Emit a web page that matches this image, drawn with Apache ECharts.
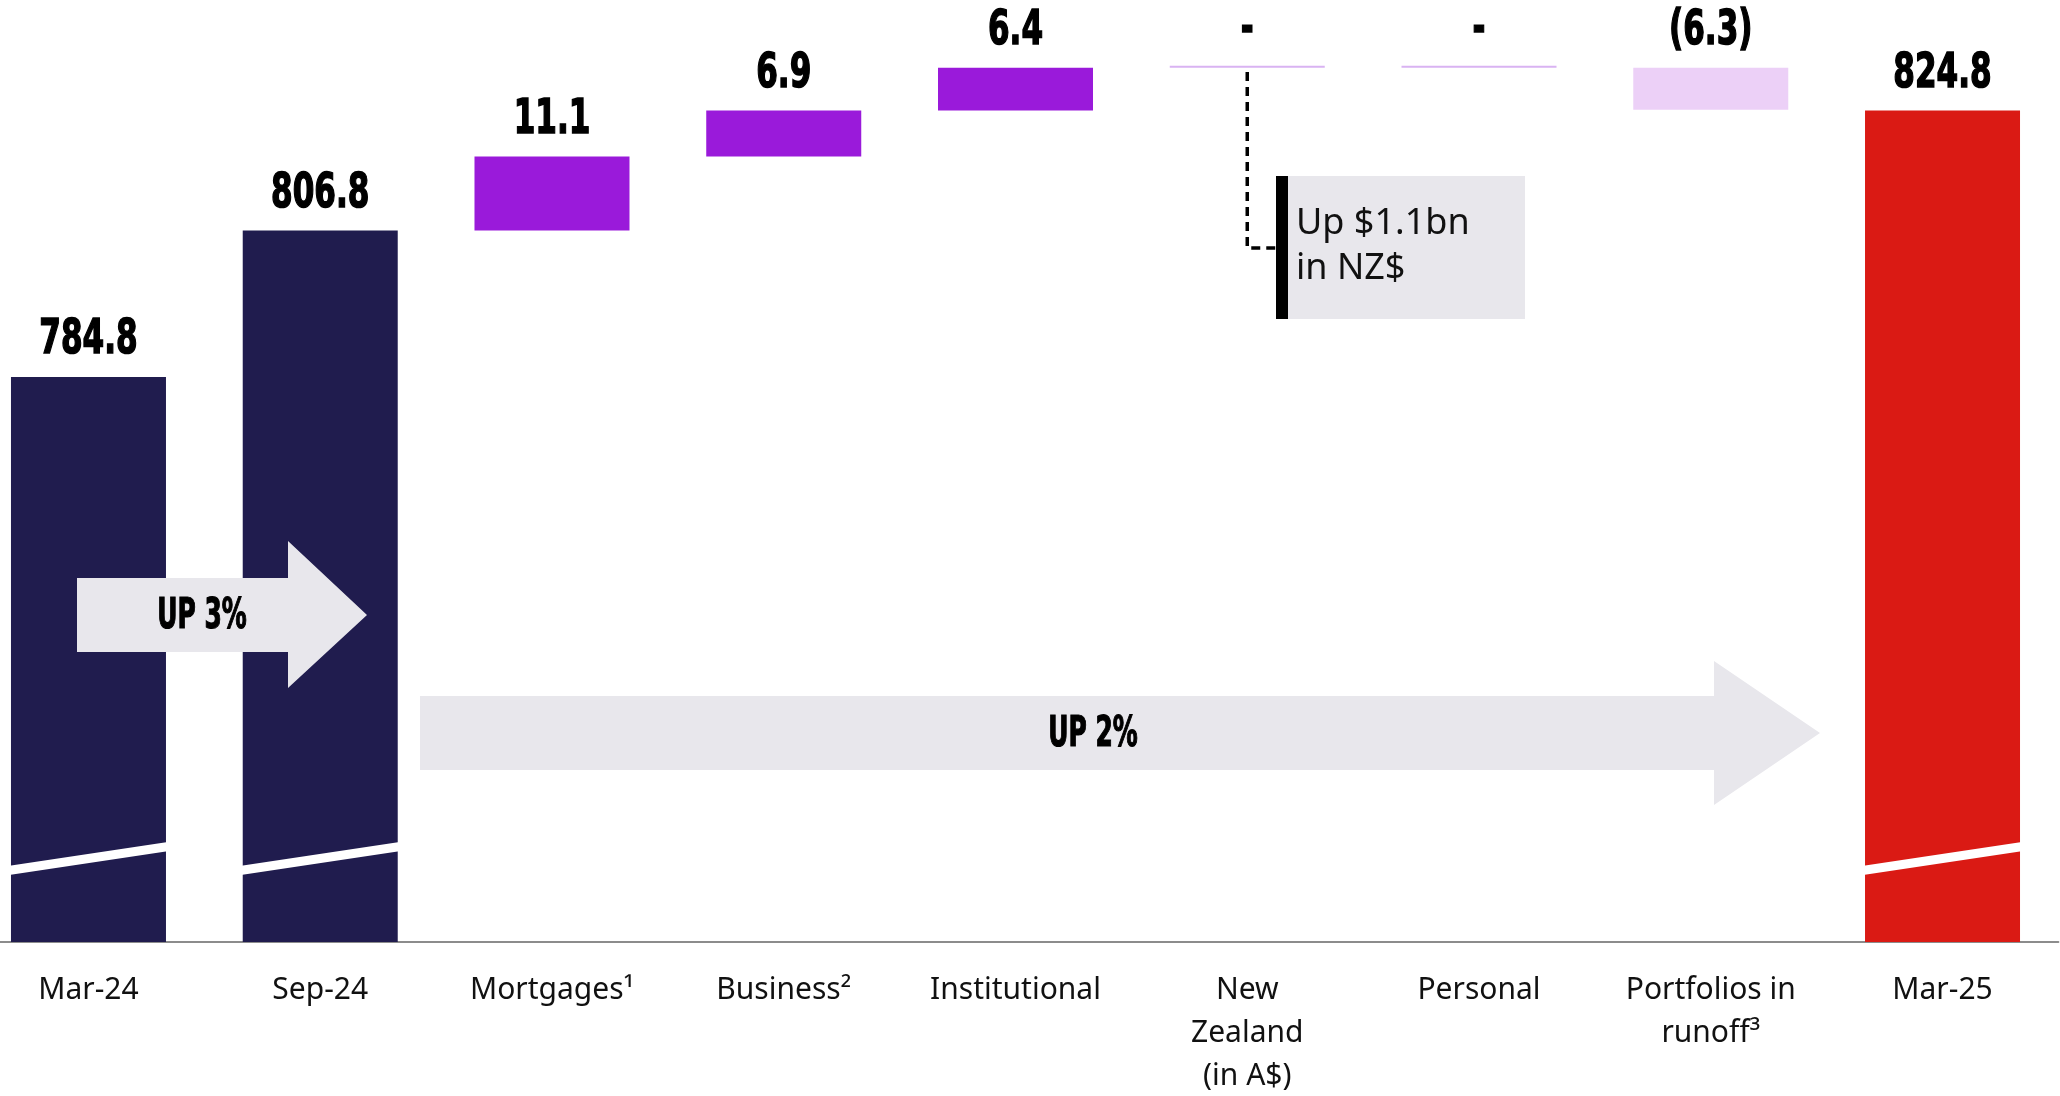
<!doctype html>
<html>
<head>
<meta charset="utf-8">
<title>Gross loans and advances waterfall</title>
<style>
	html,body{height:100%;margin:0;padding:0;background:#fff;}
	#main{width:2060px;height:1096px;}
</style>
</head>
<body>
<div id="main"></div>
<script src="https://cdn.jsdelivr.net/npm/echarts@6/dist/echarts.min.js"></script>
<script>
// data ($bn)
var categories = ['Mar-24', 'Sep-24', 'Mortgages\u00b9', 'Business\u00b2', 'Institutional',
	'New\nZealand\n(in A$)', 'Personal', 'Portfolios in\nrunoff\u00b3', 'Mar-25'];
var openingBalance = 784.8;   // Mar-24
var interimBalance = 806.8;   // Sep-24
var movements = [11.1, 6.9, 6.4, 0, 0, -6.3];
var closingBalance = 824.8;   // Mar-25

var NAVY = '#201c4e', RED = '#da1a14', PURPLE = '#9a1ada', LILAC = '#ecd0f7', ZERO = '#d9b3f2';
var NUM_FONT = '"Liberation Sans Narrow", "Arial Narrow", "DejaVu Sans Condensed", sans-serif';
var TXT_FONT = '"Noto Sans", sans-serif';
var NUM_SCALE = 0.72; // squeeze the bold figures to a narrow face

// waterfall: invisible base + visible part
var baseVals = [0, 0], showVals = [openingBalance, interimBalance];
var run = interimBalance;
movements.forEach(function (m) {
	baseVals.push(m < 0 ? run + m : run);
	showVals.push(Math.abs(m));
	run += m;
});
baseVals.push(0);
showVals.push(closingBalance);

function isTotal(i) { return i < 2 || i === categories.length - 1; }
function barColor(i) {
	if (i < 2) return NAVY;
	if (i === categories.length - 1) return RED;
	var m = movements[i - 2];
	if (m === 0) return ZERO;
	return m < 0 ? LILAC : PURPLE;
}
function barLabel(i) {
	if (isTotal(i)) return showVals[i].toFixed(1);
	var m = movements[i - 2];
	if (m === 0) return '-';
	return m < 0 ? '(' + Math.abs(m).toFixed(1) + ')' : m.toFixed(1);
}

var chart = echarts.init(document.getElementById('main'));
chart.setOption({
	animation: false,
	grid: {left: -27.4, right: 1.6, top: 9.2, bottom: 154, outerBoundsMode: 'none', containLabel: false},
	xAxis: {
		type: 'category',
		data: categories,
		axisTick: {show: false},
		axisLine: {lineStyle: {color: '#8c8c8c', width: 2}},
		axisLabel: {interval: 0, margin: 27, fontFamily: TXT_FONT, fontSize: 30, lineHeight: 43, color: '#111'}
	},
	yAxis: {type: 'value', min: 700, max: 840, show: false, splitLine: {show: false}},
	series: [
		{
			name: 'base', type: 'bar', stack: 'wf', barWidth: 155,
			itemStyle: {color: 'transparent'},
			emphasis: {disabled: true},
			data: baseVals
		},
		{
			name: 'value', type: 'bar', stack: 'wf', barWidth: 155, barMinHeight: 2,
			data: showVals,
			itemStyle: {color: function (p) { return barColor(p.dataIndex); }}
		},
		{
			// value labels, placed on top of each bar through the axes
			name: 'labels', type: 'custom', z: 5,
			data: categories.map(function (c, i) { return [i, baseVals[i] + showVals[i]]; }),
			renderItem: function (params, api) {
				var i = params.dataIndex;
				var pt = api.coord([api.value(0), api.value(1)]);
				var lift = (!isTotal(i) && movements[i - 2] === 0) ? 14 : 12;
				return {
					type: 'text', x: pt[0], y: pt[1] - lift, scaleX: NUM_SCALE,
					style: {text: barLabel(i), font: 'bold 48px ' + NUM_FONT, fill: '#000',
						stroke: '#000', lineWidth: 1.5, align: 'center', verticalAlign: 'bottom'}
				};
			}
		}
	]
});

// decorations: axis-break stripes, arrows, NZ call-out
function cx(i) { return chart.convertToPixel({xAxisIndex: 0}, i); }
var g = [];
[0, 1, categories.length - 1].forEach(function (i) {
	g.push({type: 'line', z: 10, shape: {x1: cx(i) - 80, y1: 870.5, x2: cx(i) + 80, y2: 846.5},
		style: {stroke: '#fff', lineWidth: 9}});
});
g.push({type: 'polygon', z: 10,
	shape: {points: [[77, 578], [288, 578], [288, 541], [367, 615], [288, 688], [288, 652], [77, 652]]},
	style: {fill: '#e8e7ec'}});
g.push({type: 'text', z: 11, x: 202, y: 617, scaleX: 0.66,
	style: {text: 'UP 3%', font: 'bold 42px ' + NUM_FONT, fill: '#000', stroke: '#000', lineWidth: 1.2,
		align: 'center', verticalAlign: 'middle'}});
g.push({type: 'polygon', z: 10,
	shape: {points: [[420, 696], [1714, 696], [1714, 661], [1820, 733], [1714, 805], [1714, 770], [420, 770]]},
	style: {fill: '#e8e7ec'}});
g.push({type: 'text', z: 11, x: 1093, y: 735, scaleX: 0.66,
	style: {text: 'UP 2%', font: 'bold 42px ' + NUM_FONT, fill: '#000', stroke: '#000', lineWidth: 1.2,
		align: 'center', verticalAlign: 'middle'}});
var nzX = cx(5);
g.push({type: 'polyline', z: 10, shape: {points: [[nzX, 72], [nzX, 248], [1276, 248]]},
	style: {stroke: '#000', lineWidth: 3.5, lineDash: [9, 6], fill: null}});
g.push({type: 'rect', z: 10, shape: {x: 1288, y: 176, width: 237, height: 143}, style: {fill: '#e8e7ec'}});
g.push({type: 'rect', z: 10, shape: {x: 1276, y: 176, width: 12, height: 143}, style: {fill: '#000'}});
g.push({type: 'text', z: 11, x: 1296, y: 201,
	style: {text: 'Up $1.1bn\nin NZ$', font: '36px ' + TXT_FONT, lineHeight: 45, fill: '#111', verticalAlign: 'top'}});
chart.setOption({graphic: g});
</script>
</body>
</html>
